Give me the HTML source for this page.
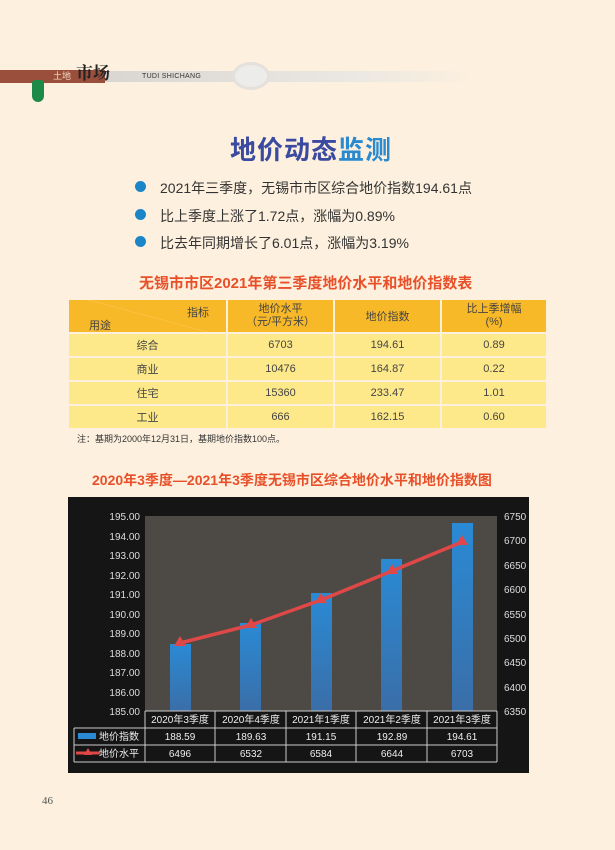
<!DOCTYPE html>
<html><head><meta charset="utf-8"><style>
body{margin:0;width:615px;height:850px;background:#fdf0de;position:relative;overflow:hidden;font-family:"Liberation Sans","Noto Sans CJK SC",sans-serif;}
.a{position:absolute;white-space:nowrap;}
table{border-collapse:separate;border-spacing:2px;}
</style></head><body>
<div class="a" style="left:0;top:70px;width:105px;height:13px;background:#9a4f3c"></div>
<div class="a" style="left:105px;top:71px;width:370px;height:11px;background:linear-gradient(90deg,#d9d6d2,#ece8e2 70%,#fdf0de)"></div>
<div class="a" style="left:53px;top:70px;font-size:9px;color:#f5d8c0;line-height:13px">土地</div>
<div class="a" style="left:76px;top:64px;font-size:17px;font-weight:bold;color:#222;line-height:20px;font-family:'Liberation Serif','Noto Serif CJK SC',serif">市场</div>
<div class="a" style="left:142px;top:72px;font-size:7px;color:#333;line-height:10px;letter-spacing:.3px">TUDI SHICHANG</div>
<div class="a" style="left:232px;top:62px;width:32px;height:22px;border-radius:50%;border:3px solid #e4e0dc;background:#ececea"></div>
<div class="a" style="left:32px;top:80px;width:12px;height:22px;background:#1e8a4a;border-radius:3px 3px 6px 6px"></div>
<div class="a" style="left:230px;top:130px;font-size:26px;font-weight:bold;color:#3a4aa0;letter-spacing:1px">地价动态<span style="color:#2a8ad0">监测</span></div>
<div class="a" style="left:135px;top:181px;width:11px;height:11px;border-radius:50%;background:#1a86c8"></div>
<div class="a" style="left:135px;top:209px;width:11px;height:11px;border-radius:50%;background:#1a86c8"></div>
<div class="a" style="left:135px;top:236px;width:11px;height:11px;border-radius:50%;background:#1a86c8"></div>
<div class="a" style="left:160px;top:178px;font-size:14px;color:#333">2021年三季度，无锡市市区综合地价指数194.61点</div>
<div class="a" style="left:160px;top:206px;font-size:14px;color:#333">比上季度上涨了1.72点，涨幅为0.89%</div>
<div class="a" style="left:160px;top:233px;font-size:14px;color:#333">比去年同期增长了6.01点，涨幅为3.19%</div>
<div class="a" style="left:139px;top:272px;font-size:15px;font-weight:bold;color:#e8502a">无锡市市区2021年第三季度地价水平和地价指数表</div>
<div class="a" style="left:67px;top:298px;width:481px;height:131px;background:#fdf0de">
<table style="width:481px;font-size:11px;color:#444;text-align:center">
<tr style="background:#f8b928;height:32px"><td style="width:155px;position:relative;background:linear-gradient(15deg,#f8b928 49.5%,#fff3 50%,#f8b928 51%)"><span style="position:absolute;left:20px;top:17px">用途</span><span style="position:absolute;left:118px;top:4px">指标</span></td><td style="width:103px;line-height:13px">地价水平<br>（元/平方米）</td><td style="width:103px">地价指数</td><td style="line-height:13px">比上季增幅<br>(%)</td></tr>
<tr style="background:#fde98a;height:22px"><td>综合</td><td>6703</td><td>194.61</td><td>0.89</td></tr>
<tr style="background:#fde98a;height:22px"><td>商业</td><td>10476</td><td>164.87</td><td>0.22</td></tr>
<tr style="background:#fde98a;height:22px"><td>住宅</td><td>15360</td><td>233.47</td><td>1.01</td></tr>
<tr style="background:#fde98a;height:22px"><td>工业</td><td>666</td><td>162.15</td><td>0.60</td></tr>
</table></div>
<div class="a" style="left:77px;top:432px;font-size:9px;color:#333">注：基期为2000年12月31日，基期地价指数100点。</div>
<div class="a" style="left:92px;top:470px;font-size:14px;font-weight:bold;color:#e8502a">2020年3季度—2021年3季度无锡市区综合地价水平和地价指数图</div>
<svg class="a" style="left:0;top:0" width="615" height="850" font-family="Liberation Sans,Noto Sans CJK SC,sans-serif">
<defs><linearGradient id="g" x1="0" y1="0" x2="0" y2="1"><stop offset="0" stop-color="#2a8ad4"/><stop offset="1" stop-color="#3a6ea8"/></linearGradient></defs>
<rect x="68" y="497" width="461" height="276" fill="#151515"/>
<rect x="145" y="516" width="352" height="195" fill="#4d4a46"/>
<g fill="#ddd" font-size="10" text-anchor="end">
<text x="140" y="520">195.00</text><text x="140" y="540">194.00</text><text x="140" y="559">193.00</text><text x="140" y="579">192.00</text><text x="140" y="598">191.00</text><text x="140" y="618">190.00</text><text x="140" y="637">189.00</text><text x="140" y="657">188.00</text><text x="140" y="676">187.00</text><text x="140" y="696">186.00</text><text x="140" y="715">185.00</text>
</g>
<g fill="#ddd" font-size="10">
<text x="504" y="520">6750</text><text x="504" y="544">6700</text><text x="504" y="569">6650</text><text x="504" y="593">6600</text><text x="504" y="618">6550</text><text x="504" y="642">6500</text><text x="504" y="666">6450</text><text x="504" y="691">6400</text><text x="504" y="715">6350</text>
</g>
<g fill="url(#g)">
<rect x="170" y="644" width="21" height="67"/><rect x="240" y="623" width="21" height="88"/><rect x="311" y="593" width="21" height="118"/><rect x="381" y="559" width="21" height="152"/><rect x="452" y="523" width="21" height="188"/>
</g>
<polyline points="180,643 251,625 321,600 392,571 462,542" fill="none" stroke="#e04848" stroke-width="3.5"/>
<g fill="#e04848"><path d="M180,636 l6,10 h-12z"/><path d="M251,618 l6,10 h-12z"/><path d="M321,593 l6,10 h-12z"/><path d="M392,564 l6,10 h-12z"/><path d="M462,535 l6,10 h-12z"/></g>
<g stroke="#ccc" stroke-width="1" fill="none">
<path d="M145,711 H497 M74,728 H497 M74,745 H497 M74,762 H497 M74,728 V762 M145,711 V762 M215,711 V762 M286,711 V762 M356,711 V762 M427,711 V762 M497,711 V762"/>
</g>
<g fill="#eee" font-size="10" text-anchor="middle">
<text x="180" y="723">2020年3季度</text><text x="251" y="723">2020年4季度</text><text x="321" y="723">2021年1季度</text><text x="392" y="723">2021年2季度</text><text x="462" y="723">2021年3季度</text>
<text x="180" y="740">188.59</text><text x="251" y="740">189.63</text><text x="321" y="740">191.15</text><text x="392" y="740">192.89</text><text x="462" y="740">194.61</text>
<text x="180" y="757">6496</text><text x="251" y="757">6532</text><text x="321" y="757">6584</text><text x="392" y="757">6644</text><text x="462" y="757">6703</text>
<text x="119" y="740">地价指数</text><text x="119" y="757">地价水平</text>
</g>
<rect x="78" y="733" width="18" height="6" fill="#2a8ad4"/>
<path d="M76,753 H100" stroke="#e04848" stroke-width="3"/><path d="M88,748 l4,7 h-8z" fill="#e04848"/>
<text x="42" y="804" font-size="11" fill="#555" font-family="Liberation Serif,serif">46</text>
</svg>
</body></html>
